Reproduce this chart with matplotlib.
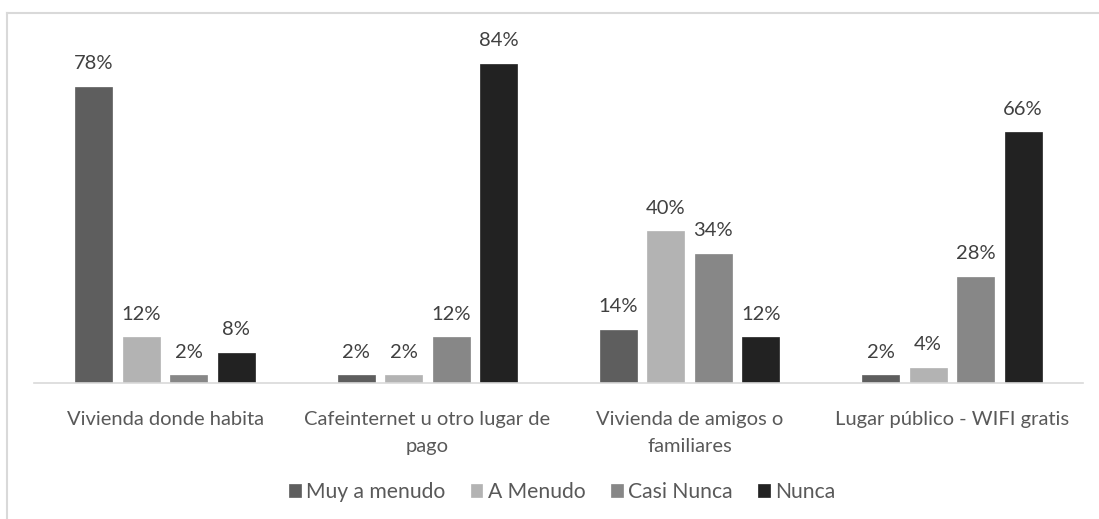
import numpy as np
import matplotlib.pyplot as plt
from matplotlib.lines import Line2D

plt.rcParams['font.family'] = ['Lato', 'DejaVu Sans']

categories = ['Vivienda donde habita', 'Cafeinternet u otro lugar de\npago',
              'Vivienda de amigos o\nfamiliares', 'Lugar público - WIFI gratis']
series = ['Muy a menudo', 'A Menudo', 'Casi Nunca', 'Nunca']
muy_a_menudo = [78, 2, 14, 2]
a_menudo = [12, 2, 40, 4]
casi_nunca = [2, 12, 34, 28]
nunca = [8, 84, 12, 66]
colors = ['#5e5e5e', '#b3b3b3', '#878787', '#222222']

W, H = 1099, 519
fig = plt.figure(figsize=(W / 100, H / 100), dpi=100)

base_y, top_y = 383, 22
left_x, right_x = 34, 1083
ax = fig.add_axes([left_x / W, (H - base_y) / H, (right_x - left_x) / W, (base_y - top_y) / H])

x = np.arange(len(categories))
step = 0.181
width = 0.141
data = [muy_a_menudo, a_menudo, casi_nunca, nunca]
for i, (name, vals) in enumerate(zip(series, data)):
    pos = x + (i - 1.5) * step
    bars = ax.bar(pos, vals, width, color=colors[i], label=name,
                  edgecolor=colors[i], linewidth=0.5)
    for b, v in zip(bars, vals):
        ax.text(b.get_x() + b.get_width() / 2, v + 6, f'{v}%',
                ha='center', va='center', fontsize=14.5, color='#404040')

ax.set_xlim(-0.5, 3.5)
ax.set_ylim(0, 95)
ax.set_yticks([])
for s in ['top', 'right', 'left']:
    ax.spines[s].set_visible(False)
ax.spines['bottom'].set_color('#d9d9d9')
ax.spines['bottom'].set_linewidth(1.2)
ax.set_xticks(x)
ax.set_xticklabels(categories, fontsize=14.5, color='#595959', linespacing=1.75)
ax.tick_params(axis='x', length=0, pad=20)

leg = fig.legend(loc='center', bbox_to_anchor=(562 / W, (H - 492) / H), ncol=4,
                 frameon=False, fontsize=15.2, handlelength=0.56, handleheight=0.56,
                 handletextpad=0.25, columnspacing=1.2)
for t in leg.get_texts():
    t.set_color('#595959')

# outer chart frame (cropped at right and bottom)
fig.add_artist(Line2D([7 / W, 7 / W], [0, (H - 13) / H], transform=fig.transFigure,
                      color='#d9d9d9', linewidth=1.5))
fig.add_artist(Line2D([7 / W, 1], [(H - 13) / H, (H - 13) / H], transform=fig.transFigure,
                      color='#d9d9d9', linewidth=1.5))

fig.savefig('out.png', dpi=100)
